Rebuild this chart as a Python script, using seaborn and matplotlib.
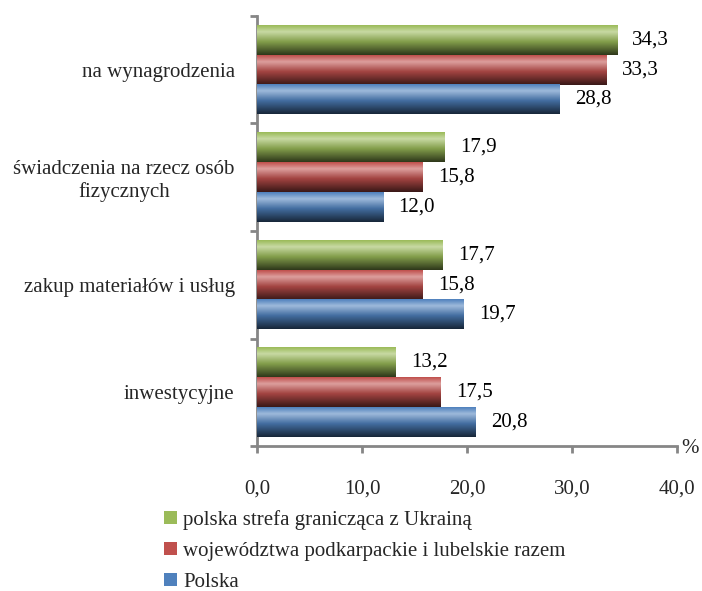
import numpy as np
import pandas as pd
import matplotlib.pyplot as plt
import seaborn as sns
from matplotlib.patches import Patch
from matplotlib.colors import to_rgb

# dane z wykresu
kategorie = ["na wynagrodzenia", "świadczenia na rzecz osób\nfizycznych",
             "zakup materiałów i usług", "inwestycyjne"]
serie = ["polska strefa granicząca z Ukrainą",
         "województwa podkarpackie i lubelskie razem",
         "Polska"]
strefa = [34.3, 17.9, 17.7, 13.2]
wojewodztwa = [33.3, 15.8, 15.8, 17.5]
polska = [28.8, 12.0, 19.7, 20.8]
kolory = ["#9BBB59", "#C0504D", "#4F81BD"]
x_ticks = [0, 10, 20, 30, 40]

df = pd.DataFrame({
    "kategoria": kategorie * 3,
    "seria": [s for s in serie for _ in kategorie],
    "wartosc": strefa + wojewodztwa + polska,
})

sns.set_theme(style="white")
plt.rcParams["font.family"] = ["Liberation Serif", "DejaVu Serif"]
FS = 15

fig = plt.figure(figsize=(7.02, 5.91), dpi=100)
ax = fig.add_axes([0.366, 0.2453, 0.5984, 0.7277])

sns.barplot(data=df, x="wartosc", y="kategoria", hue="seria", hue_order=serie,
            palette=kolory, width=0.83, orient="h", ax=ax, legend=False,
            linewidth=0, saturation=1)


def gradient(hexc, n=64):
    base = np.array(to_rgb(hexc))
    light = base + (1 - base) * 0.45
    dark = base * 0.3
    t = np.linspace(0, 1, n)
    stops = [0.0, 0.22, 0.55, 1.0]
    cols = [base, light, base * 0.85, dark]
    out = np.zeros((n, 1, 3))
    for c in range(3):
        out[:, 0, c] = np.interp(t, stops, [k[c] for k in cols])
    return out


# cieniowanie słupków
for cont, kol in zip(ax.containers, kolory):
    img = gradient(kol)
    for bar in cont:
        x0, y0 = bar.get_x(), bar.get_y()
        w, h = bar.get_width(), bar.get_height()
        ax.imshow(img, extent=(x0, x0 + w, y0 + h, y0), origin="upper",
                  aspect="auto", zorder=3, interpolation="bilinear")
    labels = [f"{v:.1f}".replace(".", ",") for v in cont.datavalues]
    ax.bar_label(cont, labels=labels, padding=11, fontsize=FS, color="black")

ax.set_xlim(0, 40)
ax.set_ylim(3.5, -0.5)
ax.set_xticks(x_ticks)
ax.set_xticklabels([f"{v:.1f}".replace(".", ",") for v in x_ticks], fontsize=FS)
ax.set_yticks(range(len(kategorie)))
ax.set_yticklabels(kategorie, fontsize=FS, multialignment="center")
ax.set_yticks([-0.5, 0.5, 1.5, 2.5, 3.5], minor=True)
ax.tick_params(axis="y", which="major", length=0, pad=16)
ax.tick_params(axis="y", which="minor", length=5, width=2, color="#868686",
               left=True, direction="out")
ax.tick_params(axis="x", which="major", length=5, width=2, color="#868686",
               bottom=True, direction="out", pad=19)
ax.set_xlabel("")
ax.set_ylabel("")
for s in ["top", "right"]:
    ax.spines[s].set_visible(False)
for s in ["left", "bottom"]:
    ax.spines[s].set_color("#868686")
    ax.spines[s].set_linewidth(2)
ax.grid(False)

ax.annotate("%", xy=(1, 0), xycoords="axes fraction", xytext=(3, -2),
            textcoords="offset points", ha="left", va="center", fontsize=FS)

uchwyty = [Patch(facecolor=k, edgecolor="none") for k in kolory]
fig.legend(uchwyty, serie, loc="upper left", bbox_to_anchor=(0.222, 0.151),
           frameon=False, fontsize=FS, handlelength=0.6, handleheight=0.6,
           handletextpad=0.3, labelspacing=0.58, borderaxespad=0)

fig.savefig("out.png", dpi=100)
